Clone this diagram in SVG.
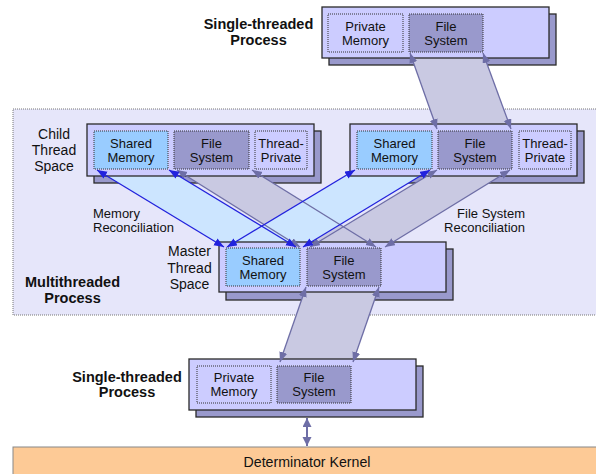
<svg xmlns="http://www.w3.org/2000/svg" width="596" height="474" viewBox="0 0 596 474">
<defs>
<marker id="ab" markerUnits="userSpaceOnUse" markerWidth="11" markerHeight="9" refX="10" refY="4" orient="auto-start-reverse"><path d="M0,0 L10,4 L0,8 z" fill="#2222dd"/></marker>
<marker id="ag" markerUnits="userSpaceOnUse" markerWidth="11" markerHeight="9" refX="10" refY="4" orient="auto-start-reverse"><path d="M0,0 L10,4 L0,8 z" fill="#6e6ea6"/></marker>
<marker id="ak" markerUnits="userSpaceOnUse" markerWidth="10" markerHeight="10" refX="9" refY="4.5" orient="auto-start-reverse"><path d="M0,0 L9,4.5 L0,9 z" fill="#6e6ea6"/></marker>
</defs>
<style>
text{font-family:"Liberation Sans",Arial,sans-serif;fill:#111;}
.in{font-size:13px;text-anchor:middle;}
.side{font-size:14px;text-anchor:middle;}
.rec{font-size:13px;}
.bold{font-size:14.5px;font-weight:bold;text-anchor:middle;}
.main{fill:#ccccff;stroke:#2a2a2a;stroke-width:1.3;}
.shadow{fill:#9999cc;stroke:#2a2a2a;stroke-width:1.3;}
.sm{fill:#99ccff;stroke:#333;stroke-width:1;stroke-dasharray:1 1;}
.fs{fill:#9999cc;stroke:#333;stroke-width:1;stroke-dasharray:1 1;}
.pm{fill:#ccccff;stroke:#333;stroke-width:1;stroke-dasharray:1 1;}
.bb{fill:#cce5ff;}
.gb{fill:#c9c9e2;}
.bl{stroke:#2222dd;stroke-width:1.3;fill:none;marker-start:url(#ab);marker-end:url(#ab);}
.gl{stroke:#6e6ea6;stroke-width:1.3;fill:none;marker-start:url(#ag);marker-end:url(#ag);}
</style>
<rect x="0" y="0" width="596" height="474" fill="#ffffff"/>
<g id="multithreaded-region">
<rect x="13" y="109" width="600" height="206" fill="#e6e6fa" stroke="#777" stroke-width="1" stroke-dasharray="1 1"/>
</g>
<g id="kernel">
<rect x="13" y="447" width="600" height="40" fill="#fdca96" stroke="#888" stroke-width="1"/>
<text x="307" y="467" style="font-size:14.2px;text-anchor:middle;">Determinator Kernel</text>
</g>
<g id="shadows">
<rect class="shadow" x="329" y="14" width="227" height="51"/>
<rect class="shadow" x="94" y="131" width="227" height="52"/>
<rect class="shadow" x="357" y="131" width="227" height="52"/>
<rect class="shadow" x="226" y="249" width="227" height="51"/>
<rect class="shadow" x="196" y="366" width="227" height="51"/>
</g>
<g id="connector-bands">
<polygon class="gb" points="410,53 483,53 511,129 437,129"/>
<polygon class="gb" points="177,170 252,170 376,247 300,247"/>
<polygon class="gb" points="437,170 510,170 385,247 310,247"/>
<polygon class="bb" points="97,170 169,170 296,247 224,247"/>
<polygon class="bb" points="355,170 430,170 303,247 227,247"/>
<polygon class="gb" points="306,287 379,287 353,362 280,362"/>
</g>
<g id="top-single-process">
<rect class="main" x="322" y="7" width="227" height="51"/>
<rect class="pm" x="328" y="14" width="75" height="38"/>
<rect class="fs" x="409" y="14" width="74" height="38"/>
<text class="in" x="365.5" y="31">Private</text><text class="in" x="365.5" y="45">Memory</text>
<text class="in" x="446" y="31">File</text><text class="in" x="446" y="45">System</text>
</g>
<g id="left-child-thread">
<rect class="main" x="87" y="124" width="227" height="52"/>
<rect class="sm" x="94" y="131" width="74" height="38"/>
<rect class="fs" x="174" y="131" width="75" height="38"/>
<rect class="pm" x="255" y="131" width="52" height="38"/>
<text class="in" x="131" y="148">Shared</text><text class="in" x="131" y="162">Memory</text>
<text class="in" x="211.5" y="148">File</text><text class="in" x="211.5" y="162">System</text>
<text class="in" x="281" y="148">Thread-</text><text class="in" x="281" y="162">Private</text>
</g>
<g id="right-child-thread">
<rect class="main" x="350" y="124" width="227" height="52"/>
<rect class="sm" x="357" y="131" width="75" height="38"/>
<rect class="fs" x="438" y="131" width="74" height="38"/>
<rect class="pm" x="519" y="131" width="52" height="38"/>
<text class="in" x="394.5" y="148">Shared</text><text class="in" x="394.5" y="162">Memory</text>
<text class="in" x="475" y="148">File</text><text class="in" x="475" y="162">System</text>
<text class="in" x="545" y="148">Thread-</text><text class="in" x="545" y="162">Private</text>
</g>
<g id="master-thread">
<rect class="main" x="219" y="242" width="227" height="50"/>
<rect class="sm" x="226" y="248" width="74" height="38"/>
<rect class="fs" x="307" y="248" width="74" height="38"/>
<text class="in" x="263" y="265">Shared</text><text class="in" x="263" y="279">Memory</text>
<text class="in" x="344" y="265">File</text><text class="in" x="344" y="279">System</text>
</g>
<g id="bottom-single-process">
<rect class="main" x="189" y="359" width="227" height="51"/>
<rect class="pm" x="197" y="366" width="74" height="37"/>
<rect class="fs" x="277" y="366" width="74" height="37"/>
<text class="in" x="234" y="382">Private</text><text class="in" x="234" y="396">Memory</text>
<text class="in" x="314" y="382">File</text><text class="in" x="314" y="396">System</text>
</g>
<g id="connectors">
<line class="gl" x1="410" y1="53" x2="437" y2="129"/>
<line class="gl" x1="483" y1="53" x2="511" y2="129"/>
<line class="gl" x1="177" y1="170" x2="300" y2="247"/>
<line class="gl" x1="252" y1="170" x2="376" y2="247"/>
<line class="gl" x1="437" y1="170" x2="310" y2="247"/>
<line class="gl" x1="510" y1="170" x2="385" y2="247"/>
<line class="bl" x1="97" y1="170" x2="224" y2="247"/>
<line class="bl" x1="169" y1="170" x2="296" y2="247"/>
<line class="bl" x1="355" y1="170" x2="227" y2="247"/>
<line class="bl" x1="430" y1="170" x2="303" y2="247"/>
<line class="gl" x1="306" y1="287" x2="280" y2="362"/>
<line class="gl" x1="379" y1="287" x2="353" y2="362"/>
<line x1="307" y1="418" x2="307" y2="446" stroke="#6e6ea6" stroke-width="2" marker-start="url(#ak)" marker-end="url(#ak)"/>
</g>
<g id="labels">
<text class="bold" x="258.5" y="29">Single-threaded</text>
<text class="bold" x="258.5" y="45">Process</text>
<text class="side" x="54" y="138.5">Child</text>
<text class="side" x="54" y="155">Thread</text>
<text class="side" x="54" y="171">Space</text>
<text class="rec" x="93" y="218">Memory</text>
<text class="rec" x="93" y="232">Reconciliation</text>
<text class="rec" x="525" y="218" text-anchor="end">File System</text>
<text class="rec" x="525" y="232" text-anchor="end">Reconciliation</text>
<text class="side" x="189.5" y="256">Master</text>
<text class="side" x="189.5" y="272.5">Thread</text>
<text class="side" x="189.5" y="288.5">Space</text>
<text class="bold" x="72.5" y="286.5">Multithreaded</text>
<text class="bold" x="72.5" y="302.5">Process</text>
<text class="bold" x="127" y="381.5">Single-threaded</text>
<text class="bold" x="127" y="397">Process</text>
</g>
</svg>
